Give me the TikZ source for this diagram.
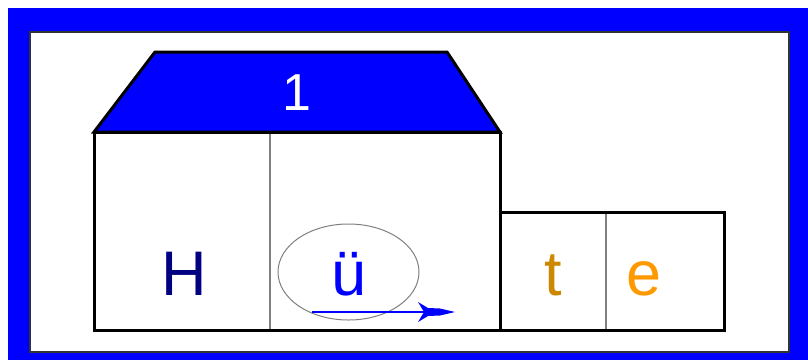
\documentclass[tikz,border=0pt]{standalone}
\usepackage{fontspec}
\setmainfont{Liberation Sans}
\definecolor{pureblue}{HTML}{0000FF}
\definecolor{navyH}{HTML}{000080}
\definecolor{tcol}{HTML}{CC8800}
\definecolor{ecol}{HTML}{FF9900}
\tikzset{
  wall/.style={draw=black, line width=3pt, line join=miter},
  divider/.style={draw=gray, line width=2.2pt},
  letter/.style={anchor=base, inner sep=0pt, font=\fontsize{63}{63}\selectfont},
}
\begin{document}
\begin{tikzpicture}[x=1pt,y=-1pt]
\useasboundingbox (0,0) rectangle (808,360);
\fill[white] (0,0) rectangle (808,360);
\fill[pureblue] (8,8) rectangle (808,360);
\draw[fill=white, draw=black!80, line width=1.5pt] (30,32) rectangle (789,352);
% roof
\draw[wall, fill=pureblue] (94,132) -- (155,52) -- (447,52) -- (500,132) -- cycle;
\node[anchor=base, inner sep=0pt, text=white, font=\fontsize{52}{52}\selectfont] (roofnum) at (297,110) {1};
% big body
\draw[wall] (94,132) rectangle (500,330);
\draw[divider] (270,133.5) -- (270,328.5);
% small body
\draw[wall] (500,212) rectangle (724,330);
\draw[divider] (606,213.5) -- (606,328.5);
% letters
\node[letter, text=navyH] (H) at (184,295) {H};
\node[letter, text=pureblue] (u) at (349,295) {ü};
\node[letter, text=tcol] (t) at (553,295) {t};
\node[letter, text=ecol] (e) at (644,295) {e};
% ellipse
\draw[gray, line width=1pt] (348.5,272) ellipse [x radius=70.5, y radius=48];
% arrow
\coordinate (as) at (312,312);
\coordinate (ab) at (424,312);
\coordinate (ae) at (455,312);
\draw[pureblue, line width=2pt] (as) -- (ab);
\fill[pureblue] (418,302) -- (428,308) -- (440,308.5) -- (ae) -- (440,315.5) -- (428,316) -- (418,322) -- (ab) -- cycle;
\end{tikzpicture}
\end{document}
